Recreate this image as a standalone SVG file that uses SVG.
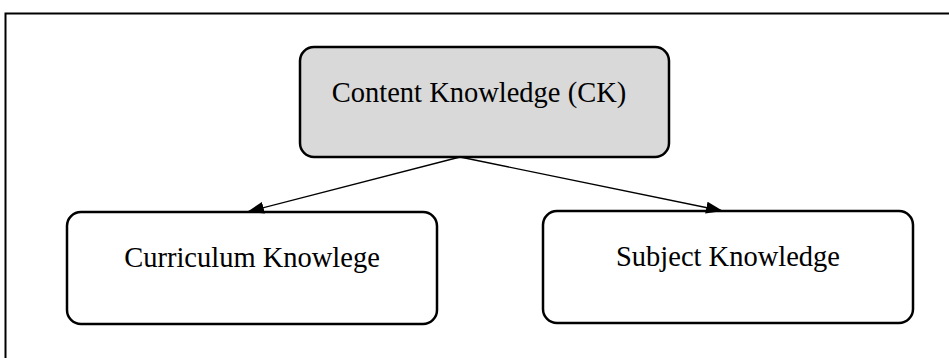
<svg xmlns="http://www.w3.org/2000/svg" width="949" height="358" viewBox="0 0 949 358">
<style>
.box{stroke:#000;stroke-width:2.5;}
.lbl{font-family:"Liberation Serif","Times New Roman",serif;font-size:28.5px;fill:#000;text-anchor:middle;}
.conn{stroke:#000;stroke-width:1.3;fill:none;}
</style>
<defs>
<marker id="ah" viewBox="0 0 17 12" refX="17" refY="6" markerWidth="17" markerHeight="12" markerUnits="userSpaceOnUse" orient="auto">
<path d="M0,0 L17,6 L0,12 z" fill="#000"/>
</marker>
</defs>
<rect x="0" y="0" width="949" height="358" fill="#fff"/>
<rect id="frame" x="5.5" y="13.5" width="960" height="360" fill="none" stroke="#000" stroke-width="2"/>
<g id="ck">
<rect class="box" x="300" y="47" width="369" height="110" rx="14" fill="#d9d9d9"/>
<text class="lbl" x="479" y="102">Content Knowledge (CK)</text>
</g>
<g id="curriculum">
<rect class="box" x="67" y="212" width="370" height="112" rx="14" fill="#fff"/>
<text class="lbl" x="252" y="267">Curriculum Knowlege</text>
</g>
<g id="subject">
<rect class="box" x="543" y="211" width="370" height="112" rx="14" fill="#fff"/>
<text class="lbl" x="728" y="266">Subject Knowledge</text>
</g>
<g id="connectors">
<line class="conn" x1="460" y1="157" x2="247" y2="212" marker-end="url(#ah)"/>
<line class="conn" x1="460" y1="157" x2="723" y2="211" marker-end="url(#ah)"/>
</g>
</svg>
